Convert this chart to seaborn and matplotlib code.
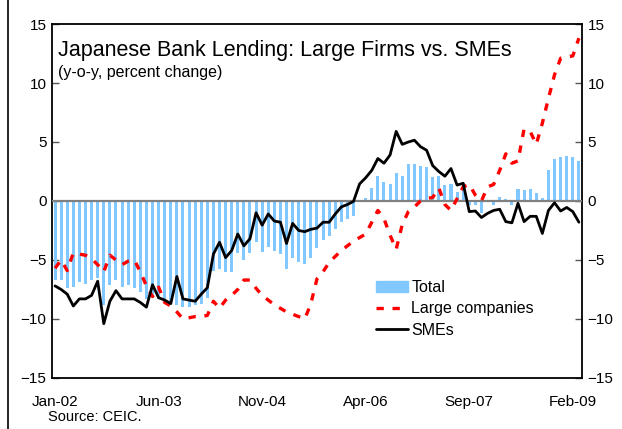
import numpy as np
import pandas as pd
import matplotlib
matplotlib.use("Agg")
import matplotlib.pyplot as plt
from matplotlib.lines import Line2D
import seaborn as sns

# monthly data, Jan-02 .. Mar-09
months = pd.date_range("2002-01-01", periods=87, freq="MS")

total = [-6.7, -6.7, -7.35, -7.3, -6.9, -7.0, -6.7, -6.5, -8.8, -7.1,
         -6.7, -7.3, -7.1, -7.35, -7.7, -8.3, -8.1, -8.3, -8.5, -8.5,
         -8.8, -9.0, -9.0, -8.8, -8.7, -8.2, -5.9, -5.75, -6.0, -6.0,
         -4.4, -5.0, -4.4, -3.5, -4.3, -3.9, -4.2, -4.5, -5.8, -4.8,
         -5.2, -5.3, -4.8, -4.0, -3.3, -3.0, -2.4, -1.75, -1.55, -1.3,
         -0.1, 0.25, 1.1, 2.1, 1.6, 1.45, 2.4, 2.1, 3.1, 3.1,
         3.0, 2.9, 2.0, 2.1, 1.35, 1.4, 0.75, 1.5, -0.3, -0.3,
         -1.05, -0.1, -0.3, 0.3, 0.15, -0.3, 1.0, 0.95, 1.0, 0.7,
         0.25, 2.6, 3.55, 3.7, 3.85, 3.7, 3.4]

large = [-5.7, -5.0, -5.9, -4.4, -4.5, -4.6, -4.9, -5.4, -6.0, -4.6,
         -5.0, -5.4, -5.1, -5.0, -6.0, -7.2, -8.1, -7.3, -8.6, -8.9,
         -9.4, -10.0, -9.9, -9.8, -9.8, -9.7, -8.5, -9.1, -8.4, -8.0,
         -7.5, -6.7, -6.7, -7.4, -8.0, -8.4, -8.8, -9.1, -9.4, -9.6,
         -9.8, -10.0, -8.7, -6.6, -6.0, -5.2, -4.7, -4.2, -3.8, -3.4,
         -3.1, -2.8, -1.8, -0.8, -1.5, -2.9, -4.1, -2.0, -0.9, -0.5,
         0.0, 0.2, 0.3, 1.1, -0.3, -0.8, 0.2, 1.2, 1.4, 0.5,
         0.0, 1.2, 1.4, 2.6, 4.0, 3.2, 3.4, 6.1, 5.9, 4.8,
         6.6, 8.7, 10.7, 12.1, 12.2, 12.3, 13.8]

smes = [-7.2, -7.5, -7.9, -8.9, -8.3, -8.3, -8.0, -6.8, -10.4, -8.5,
        -7.6, -8.3, -8.3, -8.3, -8.6, -9.0, -7.1, -8.2, -8.4, -8.7,
        -6.4, -8.3, -8.4, -8.5, -7.9, -7.35, -4.5, -3.5, -4.8, -4.2,
        -2.8, -3.8, -3.2, -1.0, -2.05, -1.1, -1.7, -1.8, -3.6, -1.9,
        -2.5, -2.6, -2.4, -2.3, -1.8, -1.8, -1.1, -0.5, -0.3, -0.03,
        1.45, 1.97, 2.6, 3.6, 3.2, 3.9, 5.9, 4.8, 5.0, 5.15,
        4.6, 4.3, 3.0, 2.5, 2.1, 2.75, 1.35, 1.5, -0.9, -0.85,
        -1.4, -1.05, -0.8, -0.7, -1.75, -1.85, -0.2, -1.75, -1.3, -1.3,
        -2.75, -0.8, -0.15, -0.85, -0.55, -0.9, -1.8]

tick_pos = [0, 17, 34, 51, 68, 85]
tick_labels = ["Jan-02", "Jun-03", "Nov-04", "Apr-06", "Sep-07", "Feb-09"]

df = pd.DataFrame({"t": np.arange(len(months)), "Total": total,
                   "Large companies": large, "SMEs": smes})

sns.set_style("white")
plt.rcParams["font.family"] = ["Liberation Sans", "DejaVu Sans"]
plt.rcParams["text.color"] = "black"
plt.rcParams["xtick.color"] = "black"
plt.rcParams["ytick.color"] = "black"

fig = plt.figure(figsize=(6.22, 4.29), dpi=100)
ax = fig.add_axes([0.0836, 0.119, 0.852, 0.825])

blue = "#80C8FF"
sns.barplot(data=df, x="t", y="Total", native_scale=True,
            color=blue, saturation=1, errorbar=None, ax=ax, zorder=2)
# make bars half a month wide
for p in ax.patches:
    c = p.get_x() + p.get_width() / 2
    p.set_width(0.5)
    p.set_x(c - 0.25)
    p.set_edgecolor("none")
ax.axhline(0, color="#808080", lw=1.6, zorder=3)
sns.lineplot(data=df, x="t", y="Large companies", color="#FF0000", lw=2.4,
             ax=ax, zorder=4)
ax.lines[-1].set_dashes((2.2, 2.6))
sns.lineplot(data=df, x="t", y="SMEs", color="black", lw=2.0, ax=ax, zorder=5)

ax.set_xlim(-0.5, 86.5)
ax.set_ylim(-15, 15)
ax.set_yticks(range(-15, 16, 5))
ax.set_xticks(tick_pos)
ax.set_xticklabels(tick_labels)
ax.set_xlabel("")
ax.set_ylabel("")
ax.tick_params(axis="y", direction="in", length=5, width=1, color="#555555",
               labelcolor="black", left=True, right=True, labelleft=True,
               labelright=True, labelsize=11, pad=4)
ax.tick_params(axis="x", length=0, labelsize=11, pad=12, labelcolor="black")
for s in ax.spines.values():
    s.set_visible(True)
    s.set_color("black")
    s.set_linewidth(1.3)

ax.text(0.012, 0.955, "Japanese Bank Lending: Large Firms vs. SMEs",
        transform=ax.transAxes, fontsize=15.5, va="top", ha="left",
        color="black")
ax.text(0.012, 0.885, "(y-o-y, percent change)",
        transform=ax.transAxes, fontsize=11.5, va="top", ha="left",
        color="black")

handles = [plt.Rectangle((0, 0), 1, 1, color=blue),
           Line2D([], [], color="#FF0000", lw=2.4, dashes=(2.2, 2.6)),
           Line2D([], [], color="black", lw=2.0)]
leg = ax.legend(handles, ["Total", "Large companies", "SMEs"], loc="upper left",
                bbox_to_anchor=(0.6, 0.295), frameon=False, fontsize=11.5,
                handlelength=2.0, handletextpad=0.2, labelspacing=0.4,
                borderaxespad=0, labelcolor="black")

fig.text(0.077, 0.012, "Source: CEIC.", fontsize=10.5, ha="left", va="bottom",
         color="black")
fig.add_artist(Line2D([0.013, 0.013], [0, 1], transform=fig.transFigure,
                      color="black", lw=1.2))

fig.savefig("out.png", dpi=100)
